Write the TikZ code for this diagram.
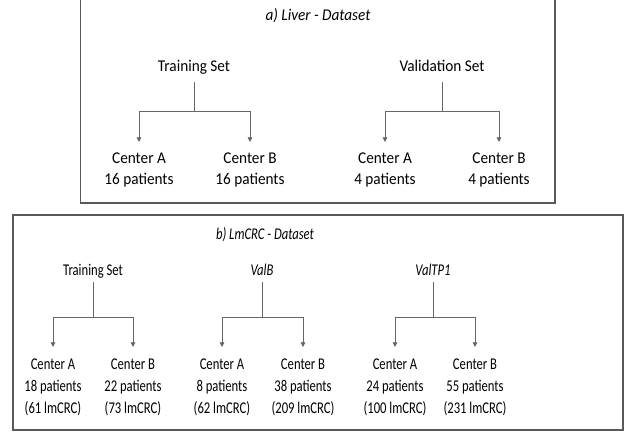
\documentclass[tikz,border=0pt]{standalone}
\usepackage{fontspec}
\setmainfont{Carlito}
\usepackage{graphicx}
\usetikzlibrary{arrows.meta}
% text is set slightly condensed, more so in the lower panel
\newcommand{\cna}[1]{\scalebox{0.93}[1]{#1}}
\newcommand{\cnb}[1]{\scalebox{0.77}[1]{#1}}
\begin{document}
\begin{tikzpicture}[x=0.03cm,y=-0.03cm,
  frame/.style={draw=black!65,line width=0.9pt},
  lbl/.style={font=\fontsize{14}{17}\selectfont,inner sep=0pt,anchor=base},
  leafa/.style={font=\fontsize{14}{18}\selectfont,align=center,inner sep=0pt,anchor=north},
  leafb/.style={font=\fontsize{14}{18.8}\selectfont,align=center,inner sep=0pt,anchor=north},
  link/.style={draw=black!60,line width=0.7pt},
  arr/.style={link,-{Triangle[length=4pt,width=4pt]}}]
\useasboundingbox (0,0) rectangle (633,432);
\fill[white] (0,0) rectangle (633,432);
% frames
\draw[frame] (80.5,-3) rectangle (555,203);
\draw[frame] (13,215) rectangle (623,430);

% ---- a) Liver dataset
\node[lbl] (ta) at (318,21) {\cna{\itshape a) Liver - Dataset}};
\node[lbl] (trA) at (194,72) {\cna{Training Set}};
\node[lbl] (vaA) at (442,72) {\cna{Validation Set}};
\coordinate (trAj) at (194,111);
\coordinate (vaAj) at (442,111);
\node[leafa] (a1) at (139,153) {\cna{Center A}\\\cna{16 patients}};
\node[leafa] (a2) at (250,153) {\cna{Center B}\\\cna{16 patients}};
\node[leafa] (a3) at (385,153) {\cna{Center A}\\\cna{4 patients}};
\node[leafa] (a4) at (499,153) {\cna{Center B}\\\cna{4 patients}};
\draw[link] (194,82) -- (trAj);
\draw[link] (442,82) -- (vaAj);
\draw[arr] (trAj) -| ([yshift=0.33cm]a1.north);
\draw[arr] (trAj) -| ([yshift=0.33cm]a2.north);
\draw[arr] (vaAj) -| ([yshift=0.33cm]a3.north);
\draw[arr] (vaAj) -| ([yshift=0.33cm]a4.north);

% ---- b) LmCRC dataset
\node[lbl] (tb) at (265,240) {\cnb{\itshape b) LmCRC - Dataset}};
\node[lbl] (trB) at (93,276) {\cnb{Training Set}};
\node[lbl] (vbB) at (262,276) {\cnb{\itshape ValB}};
\node[lbl] (vtB) at (433,276) {\cnb{\itshape ValTP1}};
\coordinate (trBj) at (93,317);
\coordinate (vbBj) at (262,317);
\coordinate (vtBj) at (433,317);
\node[leafb] (b1) at (53,359) {\cnb{Center A}\\\cnb{18 patients}\\\cnb{(61 lmCRC)}};
\node[leafb] (b2) at (133,359) {\cnb{Center B}\\\cnb{22 patients}\\\cnb{(73 lmCRC)}};
\node[leafb] (b3) at (222,359) {\cnb{Center A}\\\cnb{8 patients}\\\cnb{(62 lmCRC)}};
\node[leafb] (b4) at (303,359) {\cnb{Center B}\\\cnb{38 patients}\\\cnb{(209 lmCRC)}};
\node[leafb] (b5) at (395,359) {\cnb{Center A}\\\cnb{24 patients}\\\cnb{(100 lmCRC)}};
\node[leafb] (b6) at (475,359) {\cnb{Center B}\\\cnb{55 patients}\\\cnb{(231 lmCRC)}};
\draw[link] (93,282) -- (trBj);
\draw[link] (262,282) -- (vbBj);
\draw[link] (433,282) -- (vtBj);
\draw[arr] (trBj) -| ([yshift=0.36cm]b1.north);
\draw[arr] (trBj) -| ([yshift=0.36cm]b2.north);
\draw[arr] (vbBj) -| ([yshift=0.36cm]b3.north);
\draw[arr] (vbBj) -| ([yshift=0.36cm]b4.north);
\draw[arr] (vtBj) -| ([yshift=0.36cm]b5.north);
\draw[arr] (vtBj) -| ([yshift=0.36cm]b6.north);
\end{tikzpicture}
\end{document}
